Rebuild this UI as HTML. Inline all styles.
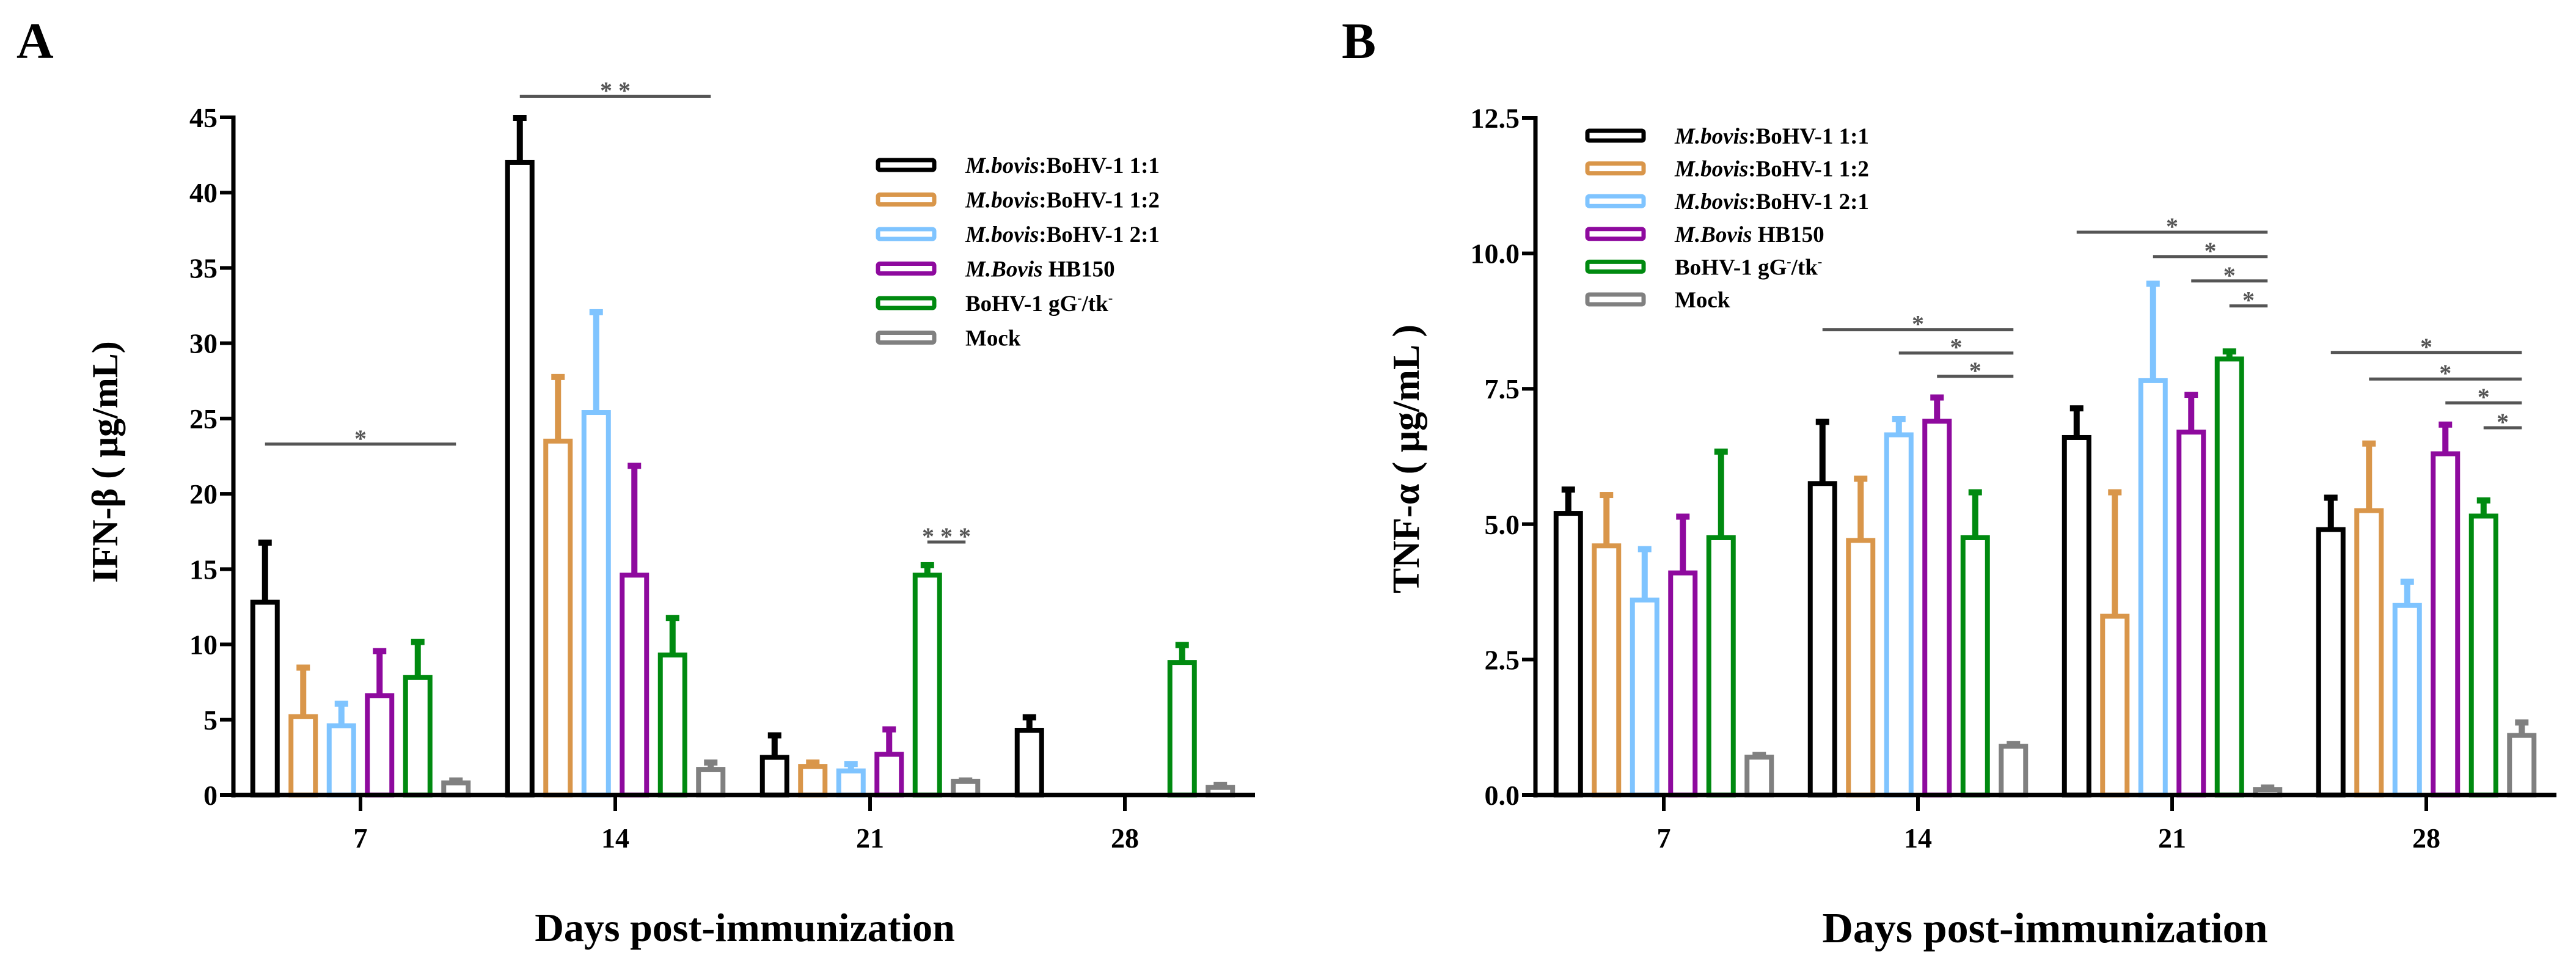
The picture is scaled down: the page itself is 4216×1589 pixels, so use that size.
<!DOCTYPE html>
<html><head><meta charset="utf-8">
<style>
html,body{margin:0;padding:0;background:#fff;}
svg{display:block;font-family:"Liberation Serif",serif;font-weight:bold;}
</style></head>
<body>
<svg id="fig" width="4216" height="1589" viewBox="0 0 4216 1589" xmlns="http://www.w3.org/2000/svg">
<text x="27" y="95" font-size="84">A</text>
<text x="2196" y="95" font-size="84">B</text>
<text x="1219" y="1540" font-size="66" text-anchor="middle">Days post-immunization</text>
<text x="3347" y="1542" font-size="70" text-anchor="middle">Days post-immunization</text>
<text transform="translate(192,756) rotate(-90)" font-size="60" text-anchor="middle">IFN-β ( μg/mL)</text>
<text transform="translate(2322,751) rotate(-90)" font-size="62" text-anchor="middle">TNF-α ( μg/mL )</text>
<g id="pa"></g>
<g id="pb"></g>
</svg>
<script>
const categories = ["7","14","21","28"];
const seriesNames = ["M.bovis:BoHV-1 1:1","M.bovis:BoHV-1 1:2","M.bovis:BoHV-1 2:1","M.Bovis HB150","BoHV-1 gG-/tk-","Mock"];
const colors = ["#000000","#d9964a","#7fc4ff","#8e0a9e","#008a10","#808080"];
// Panel A (IFN-beta) values [group][series]
const ifnMeans = [[12.8,5.2,4.6,6.6,7.8,0.8],[42,23.5,25.4,14.6,9.3,1.7],[2.5,1.9,1.6,2.7,14.6,0.9],[4.3,0,0,0,8.8,0.5]];
const ifnErrTop = [[16.8,8.5,6.1,9.6,10.2,1.0],[45,27.8,32.1,21.9,11.8,2.2],[4.0,2.2,2.1,4.4,15.3,1.0],[5.2,0,0,0,10.0,0.7]];
const ifnTicks = [0,5,10,15,20,25,30,35,40,45];
const ifnTickLabels = ["0","5","10","15","20","25","30","35","40","45"];
const ifnSig = [[0,0,5,23.3,"*"],[1,0,5,46.4,"**"],[2,4,5,16.8,"***"]];
// Panel B (TNF-alpha)
const tnfMeans = [[5.2,4.6,3.6,4.1,4.75,0.7],[5.75,4.7,6.65,6.9,4.75,0.9],[6.6,3.3,7.65,6.7,8.05,0.1],[4.9,5.25,3.5,6.3,5.15,1.1]];
const tnfErrTop = [[5.65,5.55,4.55,5.15,6.35,0.75],[6.9,5.85,6.95,7.35,5.6,0.95],[7.15,5.6,9.45,7.4,8.2,0.15],[5.5,6.5,3.95,6.85,5.45,1.35]];
const tnfTicks = [0,2.5,5,7.5,10,12.5];
const tnfTickLabels = ["0.0","2.5","5.0","7.5","10.0","12.5"];
const tnfSig = [[1,0,5,8.59,"*"],[1,2,5,8.16,"*"],[1,3,5,7.73,"*"],[2,0,5,10.39,"*"],[2,2,5,9.94,"*"],[2,3,5,9.49,"*"],[2,4,5,9.03,"*"],[3,0,5,8.17,"*"],[3,1,5,7.68,"*"],[3,3,5,7.24,"*"],[3,4,5,6.78,"*"]];

const NS="http://www.w3.org/2000/svg";
function mk(tag,attrs,parent){const e=document.createElementNS(NS,tag);for(const k in attrs)e.setAttribute(k,attrs[k]);parent.appendChild(e);return e;}

function drawPanel(g,cfg,means,errs,ticks,labels,sig,prefix){
  const y=v=>cfg.zeroY-(v/cfg.maxV)*(cfg.zeroY-cfg.topY);
  const gx=i=>cfg.g0+i*cfg.gStep;
  const bx=(gi,si)=>gx(gi)+(si-2.5)*62.5;
  // y axis
  let ax=mk('line',{x1:cfg.axX,y1:cfg.topY-3,x2:cfg.axX,y2:cfg.zeroY+4,stroke:'#000','stroke-width':7},g);
  
  
  ticks.forEach((t,i)=>{
    let tl=mk('line',{x1:cfg.axX-22,y1:y(t),x2:cfg.axX,y2:y(t),stroke:'#000','stroke-width':6},g);
    
    
    let tx=mk('text',{x:cfg.axX-26,y:y(t)+16,'font-size':46,'text-anchor':'end'},g);
    tx.textContent=labels[i];
    
    
  });
  // bars
  means.forEach((row,gi)=>{
    row.forEach((v,si)=>{
      const cx=bx(gi,si),top=y(v),et=y(errs[gi][si]);
      if(v>0){
        let st=mk('line',{x1:cx,y1:et,x2:cx,y2:top,stroke:colors[si],'stroke-width':10},g);
        
        
        let cp=mk('rect',{x:cx-11,y:et-4,width:22,height:10,fill:colors[si]},g);
        
        
        let b=mk('rect',{x:cx-20,y:top,width:40,height:cfg.zeroY-top,fill:'#fff',stroke:colors[si],'stroke-width':8},g);
        
        
      }
    });
  });
  // x axis
  let xa=mk('line',{x1:cfg.axX-3,y1:cfg.zeroY,x2:cfg.axEnd,y2:cfg.zeroY,stroke:'#000','stroke-width':7},g);
  
  
  categories.forEach((c,gi)=>{
    let tl=mk('line',{x1:gx(gi),y1:cfg.zeroY,x2:gx(gi),y2:cfg.zeroY+26,stroke:'#000','stroke-width':6},g);
    
    
    let tx=mk('text',{x:gx(gi),y:cfg.zeroY+86,'font-size':46,'text-anchor':'middle'},g);
    tx.textContent=c;
    
    
  });
  // significance
  sig.forEach(s=>{
    const x1=bx(s[0],s[1]),x2=bx(s[0],s[2]),yy=y(s[3]);
    let l=mk('line',{x1:x1,y1:yy,x2:x2,y2:yy,stroke:'#555','stroke-width':5},g);
    
    
    let t=mk('text',{x:(x1+x2)/2,y:yy+4,'font-size':40,'text-anchor':'middle',fill:'#555'},g);
    t.textContent=s[4].split('').join(' ');
    
    
  });
  // legend
  seriesNames.forEach((n,si)=>{
    const ly=cfg.legY+si*cfg.legStep;
    let sw=mk('rect',{x:cfg.legX,y:ly-8,width:92,height:16,fill:'#fff','fill-opacity':0.4,stroke:colors[si],'stroke-width':7,rx:3},g);
    
    
    let t=mk('text',{x:cfg.legX+143,y:ly+13,'font-size':37},g);
    
    
    if(si<3){
      t.innerHTML='<tspan font-style="italic">M.bovis</tspan>:BoHV-1 '+['1:1','1:2','2:1'][si];
    }else if(si==3){
      t.innerHTML='<tspan font-style="italic">M.Bovis</tspan> HB150';
    }else if(si==4){
      t.innerHTML='BoHV-1 gG<tspan font-size="22" dy="-14">-</tspan><tspan dy="14">/tk</tspan><tspan font-size="22" dy="-14">-</tspan>';
    }else t.textContent='Mock';
  });
}
drawPanel(document.getElementById('pa'),{axX:382,axEnd:2054,zeroY:1301,topY:192,maxV:45,g0:590,gStep:417,legX:1437,legY:270,legStep:56.5},ifnMeans,ifnErrTop,ifnTicks,ifnTickLabels,ifnSig,'ifn');
drawPanel(document.getElementById('pb'),{axX:2513,axEnd:4184,zeroY:1301,topY:193,maxV:12.5,g0:2723,gStep:416,legX:2598,legY:222,legStep:53.6},tnfMeans,tnfErrTop,tnfTicks,tnfTickLabels,tnfSig,'tnf');
</script>
</body></html>
